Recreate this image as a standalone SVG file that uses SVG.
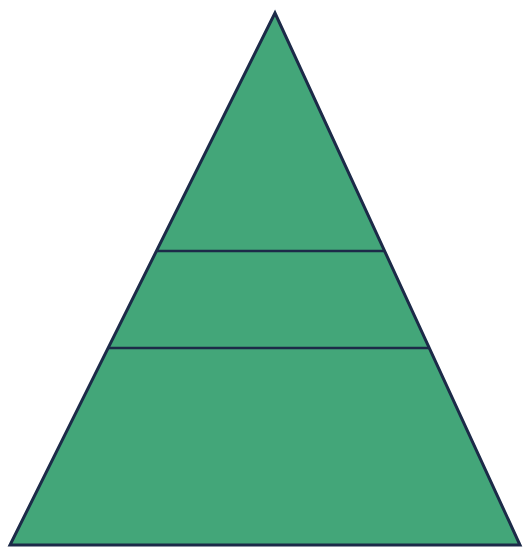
<svg xmlns="http://www.w3.org/2000/svg" width="525" height="549" viewBox="0 0 525 549">
<style>
.tri{fill:#43a679;stroke:#1c2a48;stroke-width:3;stroke-linejoin:miter}
.div{stroke:#1c2a48;stroke-width:2.5;fill:none}
</style>
<rect width="525" height="549" fill="#ffffff"/>
<g id="pyramid">
<polygon class="tri" points="275,13 10,545 520,545"/>
</g>
<g id="connectors">
<line class="div" x1="157" y1="251" x2="385" y2="251"/>
<line class="div" x1="108" y1="348" x2="430" y2="348"/>
</g>
</svg>
